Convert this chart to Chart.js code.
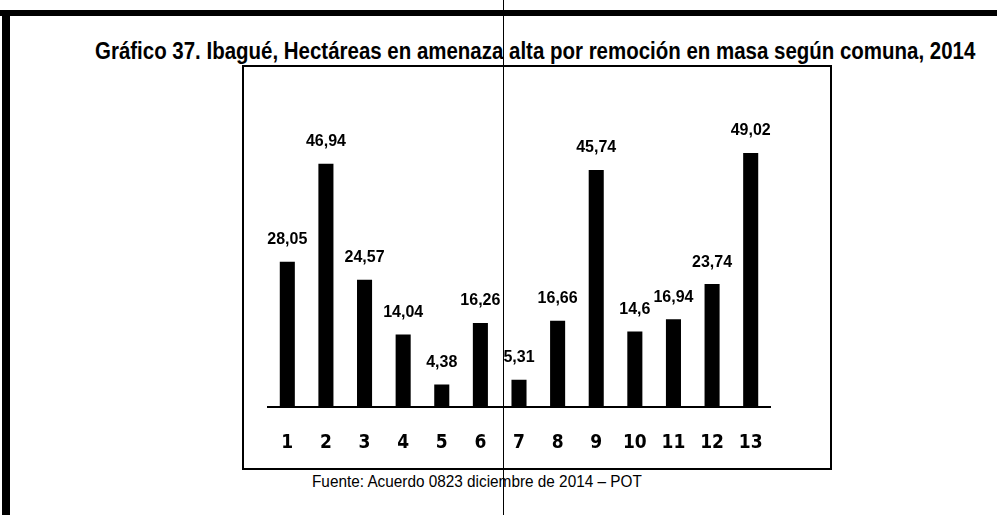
<!DOCTYPE html>
<html>
<head>
<meta charset="utf-8">
<script src="https://cdn.jsdelivr.net/npm/chart.js@4.4.0/dist/chart.umd.min.js"></script>
<style>
  body { margin: 0; background: #fff; }
  #page { position: relative; width: 997px; height: 515px; overflow: hidden; background: #fff; }
  .line { position: absolute; background: #000; }
  #title { position: absolute; left: 95px; top: 38px; white-space: nowrap; font: bold 23px "Liberation Sans Narrow", "Liberation Sans", Arial, sans-serif; color: #000; transform-origin: 0 0; }
  #source { position: absolute; left: 312px; top: 472px; white-space: nowrap; font: 17px "Liberation Sans Narrow", "Liberation Sans", Arial, sans-serif; color: #000; transform-origin: 0 0; }
  #box { position: absolute; left: 242px; top: 65px; width: 586px; height: 401px; border: 2px solid #000; }
</style>
</head>
<body>
<div id="page">
  <div class="line" style="left:0;top:10px;width:997px;height:6px;"></div>
  <div class="line" style="left:2px;top:10px;width:8px;height:505px;"></div>
  <div id="title">Gráfico 37. Ibagué,  Hectáreas en amenaza alta por remoción en masa según comuna, 2014</div>
  <div id="box"><canvas id="chart" width="586" height="401"></canvas></div>
  <div id="source">Fuente: Acuerdo 0823 diciembre de 2014 – POT</div>
  <div class="line" style="left:503px;top:0;width:1px;height:515px;"></div>
</div>
<script>
const comunas = ['1', '2', '3', '4', '5', '6', '7', '8', '9', '10', '11', '12', '13'];
const hectareas = [28.05, 46.94, 24.57, 14.04, 4.38, 16.26, 5.31, 16.66, 45.74, 14.6, 16.94, 23.74, 49.02];

// stretch a text block to the width it has in the scan
function fitWidth(id, w) {
    const el = document.getElementById(id);
    el.style.transform = 'scaleX(' + (w / el.offsetWidth) + ')';
}
fitWidth('title', 880);
fitWidth('source', 330);

// value labels over each bar, with decimal comma
const valueLabels = {
    id: 'valueLabels',
    afterDatasetsDraw(chart) {
        const ctx = chart.ctx;
        const meta = chart.getDatasetMeta(0);
        ctx.save();
        ctx.fillStyle = '#000';
        ctx.font = 'bold 16px "Liberation Sans", Arial, sans-serif';
        ctx.textAlign = 'center';
        ctx.textBaseline = 'middle';
        meta.data.forEach((bar, i) => {
            const text = String(hectareas[i]).replace('.', ',');
            ctx.fillText(text, bar.x, bar.y - 22);
        });
        ctx.restore();
    }
};

const ctx = document.getElementById('chart').getContext('2d');
new Chart(ctx, {
    type: 'bar',
    data: {
        labels: comunas,
        datasets: [{
            data: hectareas,
            backgroundColor: '#000',
            barPercentage: 0.39,
            categoryPercentage: 1
        }]
    },
    options: {
        responsive: false,
        animation: false,
        layout: { padding: { left: 24, right: 60, top: 55, bottom: -10 } },
        plugins: { legend: { display: false }, tooltip: { enabled: false } },
        scales: {
            x: {
                grid: { display: false, drawTicks: false },
                border: { display: true, color: '#000', width: 2 },
                ticks: {
                    color: '#000',
                    padding: 24,
                    font: { family: '"Liberation Sans Narrow", "DejaVu Sans Condensed", sans-serif', size: 19, weight: 'bold' }
                }
            },
            y: { display: false, min: 0, max: 55 }
        }
    },
    plugins: [valueLabels]
});
</script>
</body>
</html>
